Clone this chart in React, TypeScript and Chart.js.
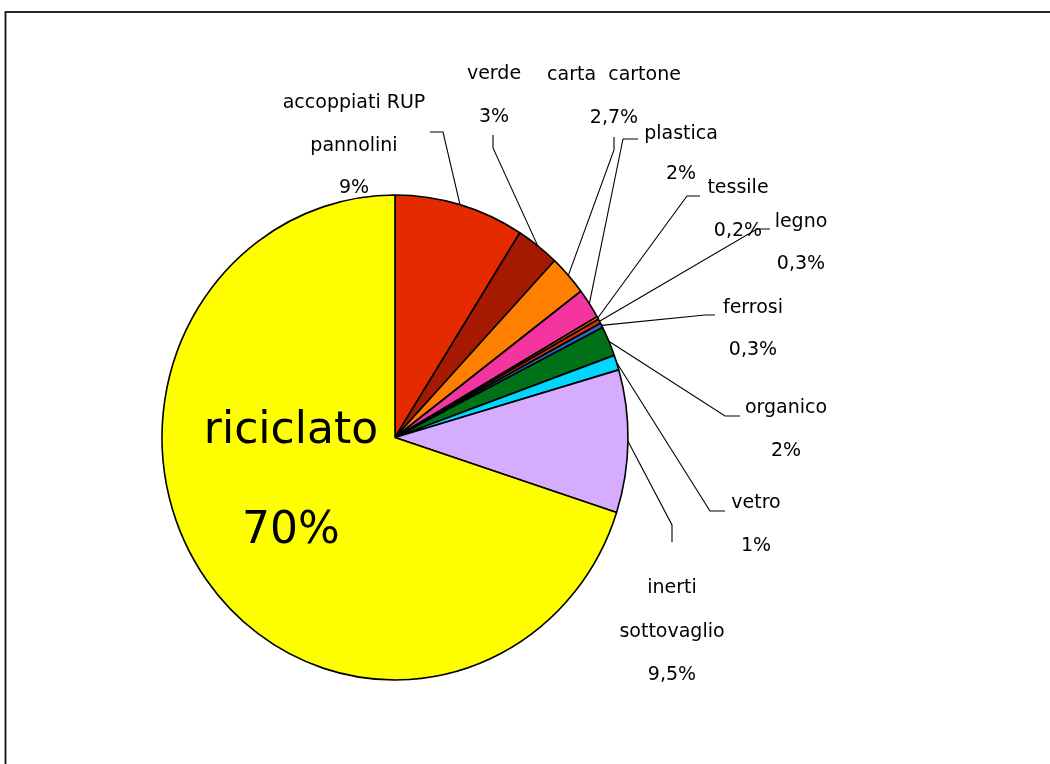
import React, { useEffect, useRef } from 'react';
import { Chart, registerables } from 'chart.js';

Chart.register(...registerables);

// ---------- data ----------
const categories = [
  'accoppiati RUP pannolini',
  'verde',
  'carta cartone',
  'plastica',
  'tessile',
  'legno',
  'ferrosi',
  'organico',
  'vetro',
  'inerti sottovaglio',
  'riciclato',
];
const values = [9, 3, 2.7, 2, 0.2, 0.3, 0.3, 2, 1, 9.5, 70];
const percentLabels = ['9%', '3%', '2,7%', '2%', '0,2%', '0,3%', '0,3%', '2%', '1%', '9,5%', '70%'];
const nameLines: string[][] = [
  ['accoppiati RUP', 'pannolini'],
  ['verde'],
  ['carta  cartone'],
  ['plastica'],
  ['tessile'],
  ['legno'],
  ['ferrosi'],
  ['organico'],
  ['vetro'],
  ['inerti', 'sottovaglio'],
  ['riciclato'],
];
const colors = [
  '#E62A00',
  '#A51A00',
  '#FF7F00',
  '#F5359F',
  '#FF8000',
  '#E62A00',
  '#1C6ECC',
  '#007119',
  '#00D6FF',
  '#D6ACFF',
  '#FFFF00',
];

// ---------- layout ----------
const W = 1050;
const H = 764;
const PIE = { left: 162, right: 628, top: 195, bottom: 680 };
// text anchor: centre x, first baseline y, line gap
const labelPos = [
  { x: 354, y: 108, gap: 42.5 },
  { x: 494, y: 79, gap: 43 },
  { x: 614, y: 80, gap: 43 },
  { x: 681, y: 139, gap: 40 },
  { x: 738, y: 193, gap: 43 },
  { x: 801, y: 227, gap: 42 },
  { x: 753, y: 313, gap: 42 },
  { x: 786, y: 413, gap: 43 },
  { x: 756, y: 508, gap: 43 },
  { x: 672, y: 593, gap: 43.5 },
  { x: 291, y: 443, gap: 100 },
];
// leader polyline start + knee (then to slice edge)
const leaders: (number[][] | null)[] = [
  [[430, 132], [443, 132]],
  [[493, 135], [493, 148]],
  [[614, 137], [614, 150]],
  [[638, 139], [623, 139]],
  [[700, 196], [687, 196]],
  [[770, 229], [757, 229]],
  [[715, 315], [705, 315]],
  [[740, 416], [725, 416]],
  [[725, 511], [710, 511]],
  [[672, 542], [672, 525]],
  null,
];
const FONT = '"DejaVu Sans", sans-serif';

export default function App() {
  const ref = useRef<HTMLCanvasElement | null>(null);

  useEffect(() => {
    document.body.style.margin = '0';
    const canvas = ref.current;
    if (!canvas) return;
    const cx = (PIE.left + PIE.right) / 2;
    const cy = (PIE.top + PIE.bottom) / 2;
    const rx = (PIE.right - PIE.left) / 2;
    const ry = (PIE.bottom - PIE.top) / 2;

    const plugin = {
      id: 'pieDecor',
      beforeDraw(chart: any) {
        const ctx = chart.ctx;
        ctx.save();
        ctx.fillStyle = '#fff';
        ctx.fillRect(0, 0, W, H);
        ctx.strokeStyle = '#111';
        ctx.lineWidth = 1.8;
        ctx.strokeRect(5.5, 12, W + 50, H + 50);
        ctx.restore();
      },
      beforeDatasetsDraw(chart: any) {
        const ctx = chart.ctx;
        const a = chart.getDatasetMeta(0).data[0];
        const ky = ry / a.outerRadius;
        const kx = rx / a.outerRadius;
        ctx.save();
        ctx.translate(a.x, a.y);
        ctx.scale(kx, ky);
        ctx.translate(-a.x, -a.y);
      },
      afterDatasetsDraw(chart: any) {
        chart.ctx.restore();
      },
      afterDraw(chart: any) {
        const ctx = chart.ctx;
        const arcs = chart.getDatasetMeta(0).data;
        ctx.save();
        // leader lines
        ctx.strokeStyle = '#000';
        ctx.lineWidth = 1.1;
        arcs.forEach((a: any, i: number) => {
          const L = leaders[i];
          if (!L) return;
          const mid = (a.startAngle + a.endAngle) / 2;
          const ex = a.x + rx * Math.cos(mid);
          const ey = a.y + ry * Math.sin(mid);
          ctx.beginPath();
          ctx.moveTo(L[0][0], L[0][1]);
          ctx.lineTo(L[1][0], L[1][1]);
          ctx.lineTo(ex, ey);
          ctx.stroke();
        });
        // labels
        ctx.fillStyle = '#000';
        ctx.textAlign = 'center';
        ctx.textBaseline = 'alphabetic';
        labelPos.forEach((p, i) => {
          const lines = [...nameLines[i], percentLabels[i]];
          ctx.font = i === 10 ? `44px ${FONT}` : `19px ${FONT}`;
          lines.forEach((t, j) => {
            ctx.fillText(t, p.x, p.y + j * p.gap);
          });
        });
        ctx.restore();
      },
    };

    const chart = new Chart(canvas, {
      type: 'pie',
      data: {
        labels: categories,
        datasets: [
          {
            data: values,
            backgroundColor: colors,
            borderColor: '#000',
            borderWidth: 1.6,
            clip: false as any,
          } as any,
        ],
      },
      options: {
        responsive: false,
        animation: false,
        events: [],
        layout: {
          padding: {
            left: cx - rx,
            right: W - (cx + rx),
            top: cy - rx,
            bottom: H - (cy + rx),
          },
        },
        plugins: {
          legend: { display: false },
          tooltip: { enabled: false },
        },
      },
      plugins: [plugin],
    });
    return () => chart.destroy();
  }, []);

  return <canvas ref={ref} width={W} height={H} style={{ display: 'block' }} />;
}
